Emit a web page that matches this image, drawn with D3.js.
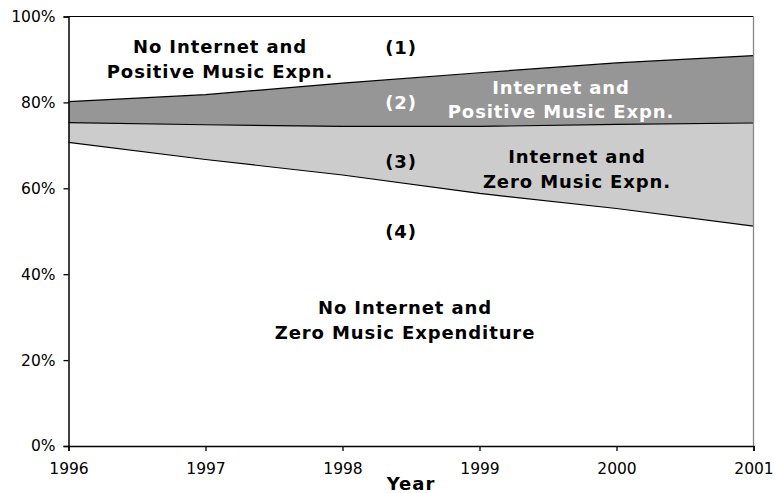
<!DOCTYPE html>
<html><head><meta charset="utf-8">
<script src="https://cdn.jsdelivr.net/npm/d3@7"></script>
<style>body{margin:0;background:#fff}svg{display:block}text{font-family:"DejaVu Sans",Verdana,sans-serif}</style>
</head><body>
<svg id="c" width="774" height="493"></svg>
<script>
const years = [1996, 1997, 1998, 1999, 2000, 2001];
// shares (%) of households, stacked bottom to top
const noInternetZero = [70.7, 66.7, 63.1, 58.8, 55.3, 51.2];
const internetZero = [4.6, 8.1, 11.3, 15.6, 19.6, 24.0];
const internetPositive = [4.9, 7.0, 10.1, 12.5, 14.3, 15.7];
const noInternetPositive = [19.8, 18.2, 15.5, 13.1, 10.8, 9.1];
const yTicks = [0, 20, 40, 60, 80, 100];

const rows = years.map((y, i) => ({year: y, a: noInternetZero[i], b: internetZero[i], c: internetPositive[i], d: noInternetPositive[i]}));
const stack = d3.stack().keys(["a", "b", "c", "d"])(rows);
const fills = {a: "#ffffff", b: "#cccccc", c: "#969696", d: "#ffffff"};

const svg = d3.select("#c");
const x = d3.scaleLinear().domain([1996, 2001]).range([68.5, 753.5]);
const y = d3.scaleLinear().domain([0, 100]).range([446, 16.5]);

const area = d3.area().x(d => x(d.data.year)).y0(d => y(d[0])).y1(d => y(d[1]));
svg.append("g").selectAll("path").data(stack).join("path")
  .attr("d", area).attr("fill", d => fills[d.key]).attr("stroke", "none");
const line = d3.line().x(d => x(d.data.year)).y(d => y(d[1]));
svg.append("g").selectAll("path").data(stack).join("path")
  .attr("d", line).attr("fill", "none").attr("stroke", "#000").attr("stroke-width", 1.2);
// right edge of plot
svg.append("line").attr("x1", x(2001)).attr("x2", x(2001)).attr("y1", y(100)).attr("y2", y(0))
  .attr("stroke", "#888").attr("stroke-width", 1.3);

const yAxis = svg.append("g").attr("transform", `translate(${x(1996)},0)`)
  .call(d3.axisLeft(y).tickValues(yTicks).tickFormat(d => d + "%").tickSize(5).tickPadding(8));
const xAxis = svg.append("g").attr("transform", `translate(0,${y(0)})`)
  .call(d3.axisBottom(x).tickValues(years).tickFormat(d3.format("d")).tickSize(5).tickPadding(12));
[yAxis, xAxis].forEach(g => {
  g.select(".domain").attr("stroke", "#000").attr("stroke-width", 1.5);
  g.selectAll(".tick line").attr("stroke", "#000").attr("stroke-width", 1.3);
  g.selectAll(".tick text").attr("font-size", 15.5).attr("fill", "#000").attr("font-family", '"DejaVu Sans",Verdana,sans-serif');
});

svg.append("text").attr("x", 411).attr("y", 490).attr("text-anchor", "middle")
  .attr("font-size", 18).attr("letter-spacing", 1).attr("font-weight", "bold").text("Year");

const labels = [
  {t: "No Internet and", x: 220, y: 53, c: "#000"},
  {t: "Positive Music Expn.", x: 220, y: 78, c: "#000"},
  {t: "(1)", x: 401, y: 54, c: "#000"},
  {t: "(2)", x: 401, y: 109, c: "#fff"},
  {t: "Internet and", x: 561, y: 94, c: "#fff"},
  {t: "Positive Music Expn.", x: 561, y: 118, c: "#fff"},
  {t: "(3)", x: 401, y: 168, c: "#000"},
  {t: "Internet and", x: 577, y: 163, c: "#000"},
  {t: "Zero Music Expn.", x: 577, y: 188, c: "#000"},
  {t: "(4)", x: 401, y: 238, c: "#000"},
  {t: "No Internet and", x: 405, y: 314, c: "#000"},
  {t: "Zero Music Expenditure", x: 405, y: 339, c: "#000"}
];
svg.append("g").selectAll("text").data(labels).join("text")
  .attr("x", d => d.x).attr("y", d => d.y).attr("text-anchor", "middle")
  .attr("font-size", 18).attr("letter-spacing", 0.9).attr("font-weight", "bold").attr("fill", d => d.c).text(d => d.t);
</script>
</body></html>
